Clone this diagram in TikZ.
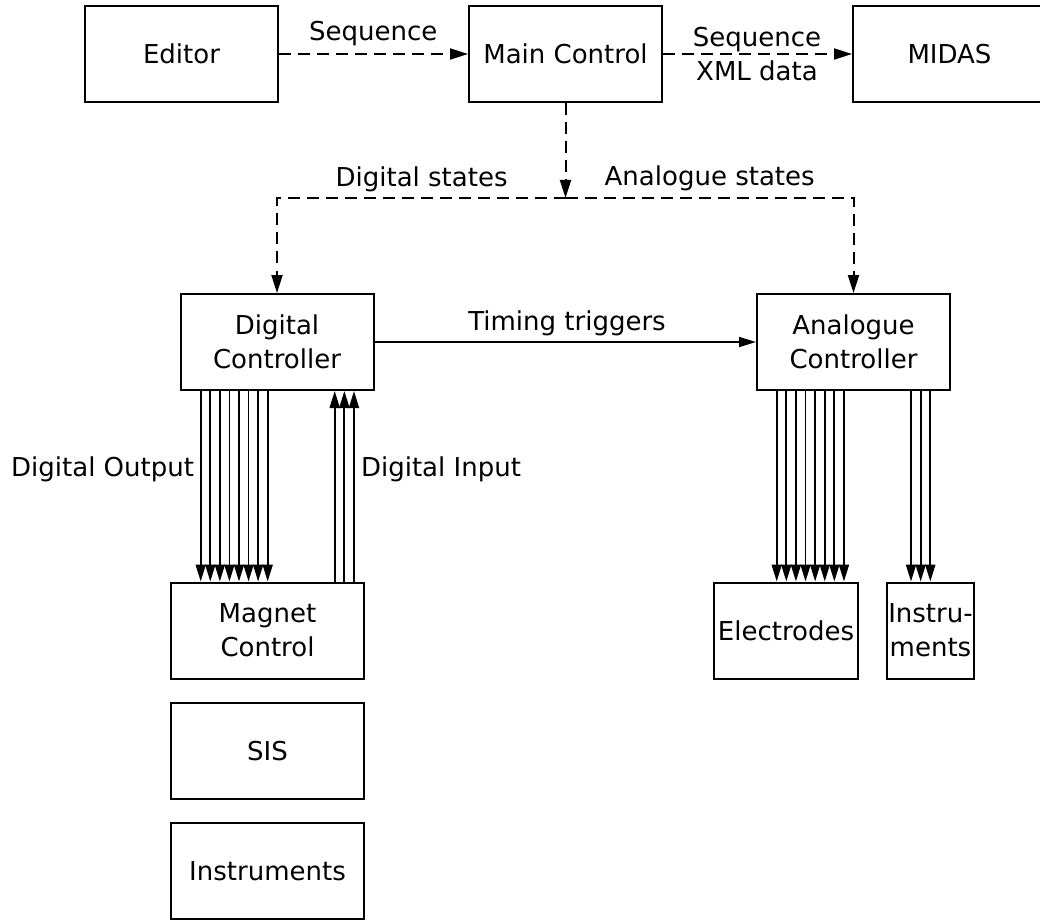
\documentclass[tikz,border=0pt]{standalone}
\usepackage{fontspec}
\setmainfont{DejaVu Sans}
\usetikzlibrary{arrows.meta}
\begin{document}
\begin{tikzpicture}[x=0.5pt,y=-0.5pt,
  font=\fontsize{13}{17}\selectfont,
  box/.style={draw,line width=1pt,minimum width=96.5pt,minimum height=48pt,inner sep=0pt,align=center},
  dashline/.style={line width=1pt,dash pattern=on 6pt off 3.5pt,-{Triangle[length=9pt,width=5.5pt]}},
  wire/.style={line width=0.9pt,-{Triangle[length=8.5pt,width=5pt]}},
  lbl/.style={anchor=base,inner sep=0pt}]
\useasboundingbox (0,0) rectangle (1040,920);
% boxes
\node[box] (ed) at (181.5,54) {Editor};
\node[box] (main) at (565.5,54) {Main Control};
\node[box] (midas) at (949.5,54) {MIDAS};
\node[box] (dc) at (277,342) {Digital\\Controller};
\node[box] (ac) at (853.5,342) {Analogue\\Controller};
\node[box] (mag) at (267.5,630.5) {Magnet\\Control};
\node[box] (sis) at (267.5,751) {SIS};
\node[box] (inst) at (267.5,871) {Instruments};
\node[box,minimum width=72pt] (el) at (786,630.5) {Electrodes};
\node[box,minimum width=43.5pt] (ins2) at (930.5,630.5) {Instru-\\ments};
% dashed connectors
\draw[dashline] (ed) -- (main);
\draw[dashline] (main) -- (midas);
\coordinate (br) at (565.5,198);
\draw[dashline] (main) -- (br);
\draw[dashline] (br) -| (dc);
\draw[dashline] (br) -| (ac);
% timing
\draw[wire] (dc) -- (ac);
% digital outputs
\foreach \i in {0,...,7}{
  \pgfmathsetmacro\xx{200.7+9.57*\i}
  \draw[wire] (dc.south -| \xx,0) -- (mag.north -| \xx,0);
}
% digital inputs
\foreach \i in {0,1,2}{
  \pgfmathsetmacro\xx{334.7+9.65*\i}
  \draw[wire] (mag.north -| \xx,0) -- (dc.south -| \xx,0);
}
% electrodes
\foreach \i in {0,...,7}{
  \pgfmathsetmacro\xx{776.7+9.61*\i}
  \draw[wire] (ac.south -| \xx,0) -- (el.north -| \xx,0);
}
% instruments
\foreach \i in {0,1,2}{
  \pgfmathsetmacro\xx{911+9.65*\i}
  \draw[wire] (ac.south -| \xx,0) -- (ins2.north -| \xx,0);
}
% labels
\node[lbl] (lseq) at (373.3,40.7) {Sequence};
\node[lbl] (lseq2) at (757,46.7) {Sequence};
\node[lbl] (lxml) at (757,81) {XML data};
\node[lbl] (ldig) at (421.6,186.7) {Digital states};
\node[lbl] (lana) at (709.7,185) {Analogue states};
\node[lbl] (ltim) at (567,330) {Timing triggers};
\node[lbl] (ldo) at (102.6,476) {Digital Output};
\node[lbl] (ldi) at (441,476) {Digital Input};
\end{tikzpicture}
\end{document}
